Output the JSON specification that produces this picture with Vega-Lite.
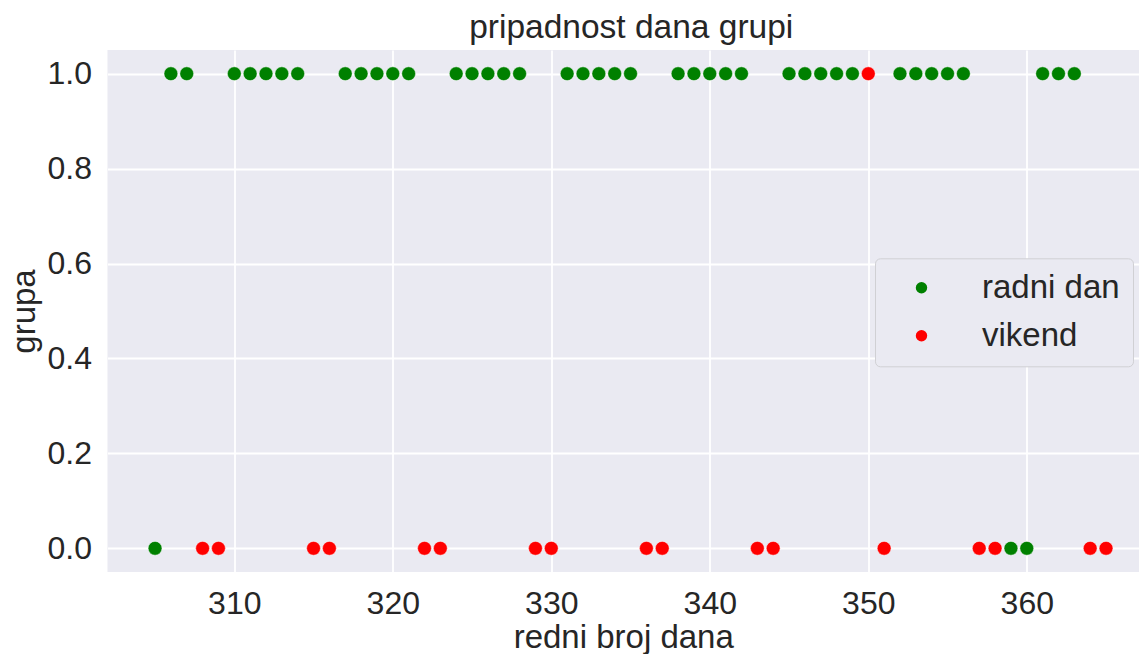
{
  "$schema": "https://vega.github.io/schema/vega-lite/v6.json",
  "width": 1031.5,
  "height": 522,
  "autosize": {"type": "none"},
  "padding": {"left": 107.5, "top": 50, "right": 0, "bottom": 82},
  "background": "white",
  "title": {
    "text": "pripadnost dana grupi",
    "font": "Liberation Sans",
    "fontSize": 33.5,
    "fontWeight": "normal",
    "color": "#262626",
    "anchor": "middle",
    "dx": 8,
    "offset": 5
  },
  "data": {
    "values": [
      {"dan": 305, "grupa": 0, "kategorija": "radni dan"},
      {"dan": 306, "grupa": 1, "kategorija": "radni dan"},
      {"dan": 307, "grupa": 1, "kategorija": "radni dan"},
      {"dan": 310, "grupa": 1, "kategorija": "radni dan"},
      {"dan": 311, "grupa": 1, "kategorija": "radni dan"},
      {"dan": 312, "grupa": 1, "kategorija": "radni dan"},
      {"dan": 313, "grupa": 1, "kategorija": "radni dan"},
      {"dan": 314, "grupa": 1, "kategorija": "radni dan"},
      {"dan": 317, "grupa": 1, "kategorija": "radni dan"},
      {"dan": 318, "grupa": 1, "kategorija": "radni dan"},
      {"dan": 319, "grupa": 1, "kategorija": "radni dan"},
      {"dan": 320, "grupa": 1, "kategorija": "radni dan"},
      {"dan": 321, "grupa": 1, "kategorija": "radni dan"},
      {"dan": 324, "grupa": 1, "kategorija": "radni dan"},
      {"dan": 325, "grupa": 1, "kategorija": "radni dan"},
      {"dan": 326, "grupa": 1, "kategorija": "radni dan"},
      {"dan": 327, "grupa": 1, "kategorija": "radni dan"},
      {"dan": 328, "grupa": 1, "kategorija": "radni dan"},
      {"dan": 331, "grupa": 1, "kategorija": "radni dan"},
      {"dan": 332, "grupa": 1, "kategorija": "radni dan"},
      {"dan": 333, "grupa": 1, "kategorija": "radni dan"},
      {"dan": 334, "grupa": 1, "kategorija": "radni dan"},
      {"dan": 335, "grupa": 1, "kategorija": "radni dan"},
      {"dan": 338, "grupa": 1, "kategorija": "radni dan"},
      {"dan": 339, "grupa": 1, "kategorija": "radni dan"},
      {"dan": 340, "grupa": 1, "kategorija": "radni dan"},
      {"dan": 341, "grupa": 1, "kategorija": "radni dan"},
      {"dan": 342, "grupa": 1, "kategorija": "radni dan"},
      {"dan": 345, "grupa": 1, "kategorija": "radni dan"},
      {"dan": 346, "grupa": 1, "kategorija": "radni dan"},
      {"dan": 347, "grupa": 1, "kategorija": "radni dan"},
      {"dan": 348, "grupa": 1, "kategorija": "radni dan"},
      {"dan": 349, "grupa": 1, "kategorija": "radni dan"},
      {"dan": 352, "grupa": 1, "kategorija": "radni dan"},
      {"dan": 353, "grupa": 1, "kategorija": "radni dan"},
      {"dan": 354, "grupa": 1, "kategorija": "radni dan"},
      {"dan": 355, "grupa": 1, "kategorija": "radni dan"},
      {"dan": 356, "grupa": 1, "kategorija": "radni dan"},
      {"dan": 359, "grupa": 0, "kategorija": "radni dan"},
      {"dan": 360, "grupa": 0, "kategorija": "radni dan"},
      {"dan": 361, "grupa": 1, "kategorija": "radni dan"},
      {"dan": 362, "grupa": 1, "kategorija": "radni dan"},
      {"dan": 363, "grupa": 1, "kategorija": "radni dan"},
      {"dan": 308, "grupa": 0, "kategorija": "vikend"},
      {"dan": 309, "grupa": 0, "kategorija": "vikend"},
      {"dan": 315, "grupa": 0, "kategorija": "vikend"},
      {"dan": 316, "grupa": 0, "kategorija": "vikend"},
      {"dan": 322, "grupa": 0, "kategorija": "vikend"},
      {"dan": 323, "grupa": 0, "kategorija": "vikend"},
      {"dan": 329, "grupa": 0, "kategorija": "vikend"},
      {"dan": 330, "grupa": 0, "kategorija": "vikend"},
      {"dan": 336, "grupa": 0, "kategorija": "vikend"},
      {"dan": 337, "grupa": 0, "kategorija": "vikend"},
      {"dan": 343, "grupa": 0, "kategorija": "vikend"},
      {"dan": 344, "grupa": 0, "kategorija": "vikend"},
      {"dan": 350, "grupa": 1, "kategorija": "vikend"},
      {"dan": 351, "grupa": 0, "kategorija": "vikend"},
      {"dan": 357, "grupa": 0, "kategorija": "vikend"},
      {"dan": 358, "grupa": 0, "kategorija": "vikend"},
      {"dan": 364, "grupa": 0, "kategorija": "vikend"},
      {"dan": 365, "grupa": 0, "kategorija": "vikend"}
    ]
  },
  "mark": {"type": "circle", "size": 190, "opacity": 1, "stroke": "white", "strokeWidth": 0.6, "strokeOpacity": 0.7},
  "encoding": {
    "x": {
      "field": "dan",
      "type": "quantitative",
      "scale": {"domain": [302, 367.08], "nice": false, "zero": false},
      "axis": {
        "values": [310, 320, 330, 340, 350, 360],
        "title": "redni broj dana",
        "labelPadding": 16,
        "titlePadding": 2
      }
    },
    "y": {
      "field": "grupa",
      "type": "quantitative",
      "scale": {"domain": [-0.05, 1.05], "nice": false, "zero": false},
      "axis": {
        "values": [0, 0.2, 0.4, 0.6, 0.8, 1.0],
        "format": ".1f",
        "title": "grupa",
        "labelPadding": 16,
        "titlePadding": 6
      }
    },
    "color": {
      "field": "kategorija",
      "type": "nominal",
      "scale": {"domain": ["radni dan", "vikend"], "range": ["#008000", "#ff0000"]},
      "legend": {
        "title": null,
        "orient": "none",
        "legendX": 767.5,
        "legendY": 208.3,
        "padding": 13,
        "rowPadding": 14,
        "symbolType": "circle",
        "symbolSize": 130,
        "symbolStrokeWidth": 0,
        "symbolOpacity": 1,
        "symbolOffset": 17,
        "labelOffset": 44,
        "labelLimit": 300,
        "labelFont": "Liberation Sans",
        "labelFontSize": 33,
        "labelColor": "#262626",
        "fillColor": "#EAEAF2",
        "strokeColor": "#d0d0d4",
        "cornerRadius": 5
      }
    }
  },
  "config": {
    "view": {"stroke": null, "fill": "#EAEAF2"},
    "axis": {
      "grid": true,
      "gridColor": "white",
      "gridWidth": 1.8,
      "domain": false,
      "ticks": false,
      "labelFont": "Liberation Sans",
      "labelFontSize": 32,
      "labelColor": "#262626",
      "titleFont": "Liberation Sans",
      "titleFontSize": 33,
      "titleFontWeight": "normal",
      "titleColor": "#262626"
    }
  }
}
